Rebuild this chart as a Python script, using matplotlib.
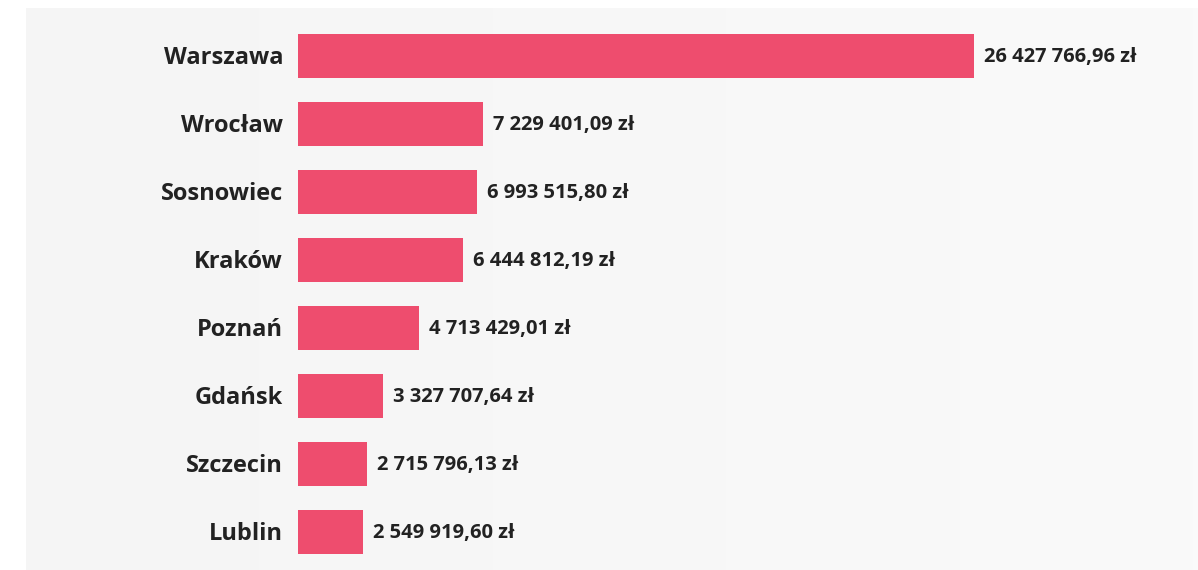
import numpy as np
import matplotlib.pyplot as plt
from matplotlib.transforms import offset_copy

cities = ["Warszawa", "Wrocław", "Sosnowiec", "Kraków", "Poznań", "Gdańsk", "Szczecin", "Lublin"]
amounts = [26427766.96, 7229401.09, 6993515.80, 6444812.19, 4713429.01, 3327707.64, 2715796.13, 2549919.60]
value_labels = ["26 427 766,96 zł", "7 229 401,09 zł", "6 993 515,80 zł", "6 444 812,19 zł",
                "4 713 429,01 zł", "3 327 707,64 zł", "2 715 796,13 zł", "2 549 919,60 zł"]

W, H = 1198, 570
fig = plt.figure(figsize=(W / 100, H / 100), dpi=100)
fig.patch.set_facecolor("white")

# light gray panel with a faint left-to-right gradient
bg = fig.add_axes([26 / W, 0, 1 - 26 / W, (H - 8) / H])
grad = np.linspace(0, 1, 256).reshape(1, -1)
bg.imshow(grad, aspect="auto", cmap=plt.matplotlib.colors.LinearSegmentedColormap.from_list(
    "bg", ["#f5f5f5", "#fafafa"]), extent=[0, 1, 0, 1])
bg.axis("off")

ax = fig.add_axes([298 / W, 4 / H, 676 / W, (566 - 22) / H])
ax.set_facecolor("none")
y = np.arange(len(cities))
ax.barh(y, amounts, height=0.66, color="#ee4d6e")
ax.set_xlim(0, max(amounts))
ax.set_ylim(len(cities) - 0.5, -0.5)
ax.axis("off")

for yi, name, val, lab in zip(y, cities, amounts, value_labels):
    ax.text(0, yi, name, transform=offset_copy(ax.transData, fig=fig, x=-15, y=-1.5, units="dots"),
            ha="right", va="center", fontsize=17, fontweight="bold", color="#222222",
            family="Open Sans")
    ax.text(val, yi, lab, transform=offset_copy(ax.transData, fig=fig, x=10, y=-1, units="dots"),
            ha="left", va="center", fontsize=14.5, fontweight="bold", color="#222222",
            family="Open Sans", clip_on=False)

fig.savefig("out.png", dpi=100)
